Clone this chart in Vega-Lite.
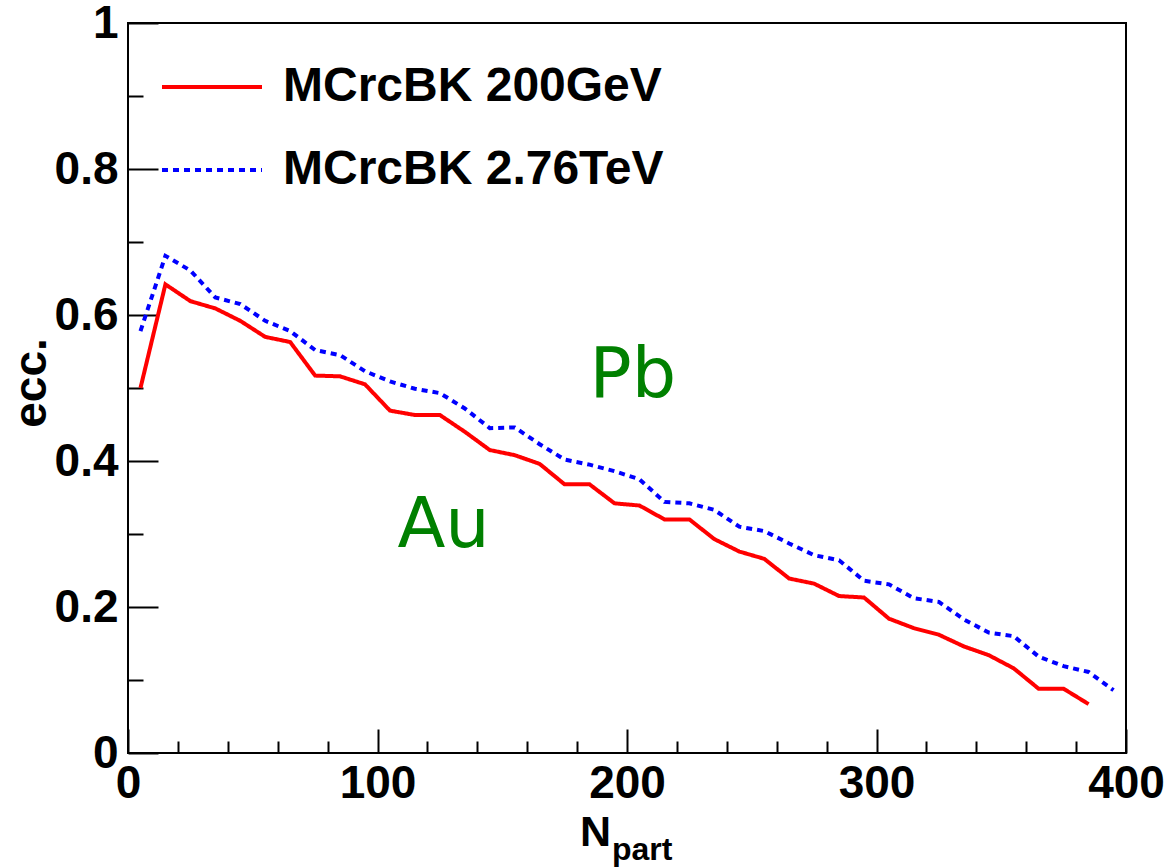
{
  "$schema": "https://vega.github.io/schema/vega-lite/v6.json",
  "width": 998,
  "height": 730,
  "autosize": "none",
  "padding": {"left": 128, "top": 23, "right": 41, "bottom": 114},
  "background": "white",
  "config": {
    "view": {"stroke": "black", "strokeWidth": 2},
    "axis": {
      "grid": false,
      "domain": false,
      "tickColor": "black",
      "tickWidth": 2,
      "labelFont": "Liberation Sans",
      "labelFontWeight": "bold",
      "labelFontSize": 46,
      "labelColor": "black",
      "labelFlush": false,
      "labelOverlap": false,
      "labelBound": false,
      "titleFont": "Liberation Sans",
      "titleFontWeight": "bold",
      "titleFontSize": 46,
      "titleColor": "black"
    }
  },
  "data": {
    "values": [
      {"N": 5, "ecc": 0.500, "series": "MCrcBK 200GeV"},
      {"N": 15, "ecc": 0.642, "series": "MCrcBK 200GeV"},
      {"N": 25, "ecc": 0.619, "series": "MCrcBK 200GeV"},
      {"N": 35, "ecc": 0.609, "series": "MCrcBK 200GeV"},
      {"N": 45, "ecc": 0.592, "series": "MCrcBK 200GeV"},
      {"N": 55, "ecc": 0.570, "series": "MCrcBK 200GeV"},
      {"N": 65, "ecc": 0.563, "series": "MCrcBK 200GeV"},
      {"N": 75, "ecc": 0.517, "series": "MCrcBK 200GeV"},
      {"N": 85, "ecc": 0.516, "series": "MCrcBK 200GeV"},
      {"N": 95, "ecc": 0.505, "series": "MCrcBK 200GeV"},
      {"N": 105, "ecc": 0.469, "series": "MCrcBK 200GeV"},
      {"N": 115, "ecc": 0.463, "series": "MCrcBK 200GeV"},
      {"N": 125, "ecc": 0.463, "series": "MCrcBK 200GeV"},
      {"N": 135, "ecc": 0.440, "series": "MCrcBK 200GeV"},
      {"N": 145, "ecc": 0.415, "series": "MCrcBK 200GeV"},
      {"N": 155, "ecc": 0.408, "series": "MCrcBK 200GeV"},
      {"N": 165, "ecc": 0.396, "series": "MCrcBK 200GeV"},
      {"N": 175, "ecc": 0.368, "series": "MCrcBK 200GeV"},
      {"N": 185, "ecc": 0.368, "series": "MCrcBK 200GeV"},
      {"N": 195, "ecc": 0.342, "series": "MCrcBK 200GeV"},
      {"N": 205, "ecc": 0.339, "series": "MCrcBK 200GeV"},
      {"N": 215, "ecc": 0.320, "series": "MCrcBK 200GeV"},
      {"N": 225, "ecc": 0.320, "series": "MCrcBK 200GeV"},
      {"N": 235, "ecc": 0.293, "series": "MCrcBK 200GeV"},
      {"N": 245, "ecc": 0.276, "series": "MCrcBK 200GeV"},
      {"N": 255, "ecc": 0.266, "series": "MCrcBK 200GeV"},
      {"N": 265, "ecc": 0.239, "series": "MCrcBK 200GeV"},
      {"N": 275, "ecc": 0.232, "series": "MCrcBK 200GeV"},
      {"N": 285, "ecc": 0.215, "series": "MCrcBK 200GeV"},
      {"N": 295, "ecc": 0.213, "series": "MCrcBK 200GeV"},
      {"N": 305, "ecc": 0.184, "series": "MCrcBK 200GeV"},
      {"N": 315, "ecc": 0.171, "series": "MCrcBK 200GeV"},
      {"N": 325, "ecc": 0.162, "series": "MCrcBK 200GeV"},
      {"N": 335, "ecc": 0.146, "series": "MCrcBK 200GeV"},
      {"N": 345, "ecc": 0.134, "series": "MCrcBK 200GeV"},
      {"N": 355, "ecc": 0.116, "series": "MCrcBK 200GeV"},
      {"N": 365, "ecc": 0.088, "series": "MCrcBK 200GeV"},
      {"N": 375, "ecc": 0.088, "series": "MCrcBK 200GeV"},
      {"N": 385, "ecc": 0.067, "series": "MCrcBK 200GeV"},
      {"N": 5, "ecc": 0.578, "series": "MCrcBK 2.76TeV"},
      {"N": 15, "ecc": 0.681, "series": "MCrcBK 2.76TeV"},
      {"N": 25, "ecc": 0.661, "series": "MCrcBK 2.76TeV"},
      {"N": 35, "ecc": 0.624, "series": "MCrcBK 2.76TeV"},
      {"N": 45, "ecc": 0.615, "series": "MCrcBK 2.76TeV"},
      {"N": 55, "ecc": 0.592, "series": "MCrcBK 2.76TeV"},
      {"N": 65, "ecc": 0.578, "series": "MCrcBK 2.76TeV"},
      {"N": 75, "ecc": 0.552, "series": "MCrcBK 2.76TeV"},
      {"N": 85, "ecc": 0.545, "series": "MCrcBK 2.76TeV"},
      {"N": 95, "ecc": 0.523, "series": "MCrcBK 2.76TeV"},
      {"N": 105, "ecc": 0.509, "series": "MCrcBK 2.76TeV"},
      {"N": 115, "ecc": 0.499, "series": "MCrcBK 2.76TeV"},
      {"N": 125, "ecc": 0.493, "series": "MCrcBK 2.76TeV"},
      {"N": 135, "ecc": 0.472, "series": "MCrcBK 2.76TeV"},
      {"N": 145, "ecc": 0.445, "series": "MCrcBK 2.76TeV"},
      {"N": 155, "ecc": 0.446, "series": "MCrcBK 2.76TeV"},
      {"N": 165, "ecc": 0.423, "series": "MCrcBK 2.76TeV"},
      {"N": 175, "ecc": 0.402, "series": "MCrcBK 2.76TeV"},
      {"N": 185, "ecc": 0.395, "series": "MCrcBK 2.76TeV"},
      {"N": 195, "ecc": 0.386, "series": "MCrcBK 2.76TeV"},
      {"N": 205, "ecc": 0.375, "series": "MCrcBK 2.76TeV"},
      {"N": 215, "ecc": 0.344, "series": "MCrcBK 2.76TeV"},
      {"N": 225, "ecc": 0.342, "series": "MCrcBK 2.76TeV"},
      {"N": 235, "ecc": 0.333, "series": "MCrcBK 2.76TeV"},
      {"N": 245, "ecc": 0.310, "series": "MCrcBK 2.76TeV"},
      {"N": 255, "ecc": 0.304, "series": "MCrcBK 2.76TeV"},
      {"N": 265, "ecc": 0.287, "series": "MCrcBK 2.76TeV"},
      {"N": 275, "ecc": 0.271, "series": "MCrcBK 2.76TeV"},
      {"N": 285, "ecc": 0.264, "series": "MCrcBK 2.76TeV"},
      {"N": 295, "ecc": 0.236, "series": "MCrcBK 2.76TeV"},
      {"N": 305, "ecc": 0.231, "series": "MCrcBK 2.76TeV"},
      {"N": 315, "ecc": 0.212, "series": "MCrcBK 2.76TeV"},
      {"N": 325, "ecc": 0.207, "series": "MCrcBK 2.76TeV"},
      {"N": 335, "ecc": 0.183, "series": "MCrcBK 2.76TeV"},
      {"N": 345, "ecc": 0.165, "series": "MCrcBK 2.76TeV"},
      {"N": 355, "ecc": 0.160, "series": "MCrcBK 2.76TeV"},
      {"N": 365, "ecc": 0.132, "series": "MCrcBK 2.76TeV"},
      {"N": 375, "ecc": 0.119, "series": "MCrcBK 2.76TeV"},
      {"N": 385, "ecc": 0.111, "series": "MCrcBK 2.76TeV"},
      {"N": 395, "ecc": 0.086, "series": "MCrcBK 2.76TeV"}
    ]
  },
  "layer": [
    {
      "mark": {"type": "line", "strokeWidth": 4, "clip": true},
      "encoding": {
        "x": {
          "field": "N",
          "type": "quantitative",
          "scale": {"domain": [0, 400], "nice": false, "zero": false},
          "axis": {
            "values": [0, 20, 40, 60, 80, 100, 120, 140, 160, 180, 200, 220, 240, 260, 280, 300, 320, 340, 360, 380, 400],
            "labelExpr": "datum.value % 100 === 0 ? datum.label : ''",
            "tickSize": {"condition": {"test": "datum.value % 100 === 0", "value": -24}, "value": -12},
            "labelPadding": 32,
            "title": "N",
            "titleFontSize": 43,
            "titleX": 467,
            "titleY": 92,
            "titleAlign": "center",
            "titleBaseline": "alphabetic"
          }
        },
        "y": {
          "field": "ecc",
          "type": "quantitative",
          "scale": {"domain": [0, 1], "nice": false, "zero": false},
          "axis": {
            "values": [0, 0.05, 0.1, 0.15, 0.2, 0.25, 0.3, 0.35, 0.4, 0.45, 0.5, 0.55, 0.6, 0.65, 0.7, 0.75, 0.8, 0.85, 0.9, 0.95, 1],
            "labelExpr": "abs(datum.value * 5 - round(datum.value * 5)) < 1e-6 ? format(datum.value, '.1~f') : ''",
            "tickSize": {"condition": {"test": "abs(datum.value * 5 - round(datum.value * 5)) < 1e-6", "value": -30}, "value": -15},
            "labelPadding": 40,
            "title": "ecc.",
            "titleX": -83,
            "titleY": 359.5,
            "titleAngle": 270,
            "titleAlign": "center",
            "titleBaseline": "alphabetic"
          }
        },
        "color": {
          "field": "series",
          "type": "nominal",
          "scale": {"domain": ["MCrcBK 200GeV", "MCrcBK 2.76TeV"], "range": ["#ff0000", "#0000ff"]},
          "legend": {
            "orient": "none",
            "legendX": 32,
            "legendY": 12,
            "title": null,
            "padding": 0,
            "symbolType": "stroke",
            "symbolSize": 10000,
            "symbolStrokeWidth": 4,
            "labelFont": "Liberation Sans",
            "labelFontWeight": "bold",
            "labelFontSize": 48,
            "labelColor": "black",
            "labelOffset": 19,
            "labelLimit": 600,
            "rowPadding": 7
          }
        },
        "strokeDash": {
          "field": "series",
          "type": "nominal",
          "scale": {"domain": ["MCrcBK 200GeV", "MCrcBK 2.76TeV"], "range": [[1, 0], [6, 5]]},
          "legend": null
        }
      }
    },
    {
      "data": {"values": [{"label": "Pb"}]},
      "mark": {"type": "text", "font": "DejaVu Sans", "fontSize": 70, "color": "#008000", "align": "left", "baseline": "alphabetic"},
      "encoding": {
        "text": {"field": "label"},
        "x": {"datum": 185},
        "y": {"datum": 0.488}
      }
    },
    {
      "data": {"values": [{"label": "Au"}]},
      "mark": {"type": "text", "font": "DejaVu Sans", "fontSize": 70, "color": "#008000", "align": "left", "baseline": "alphabetic"},
      "encoding": {
        "text": {"field": "label"},
        "x": {"datum": 108},
        "y": {"datum": 0.282}
      }
    },
    {
      "data": {"values": [{"label": "part"}]},
      "mark": {"type": "text", "font": "Liberation Sans", "fontWeight": "bold", "fontSize": 32, "color": "black", "align": "left", "baseline": "alphabetic"},
      "encoding": {
        "text": {"field": "label"},
        "x": {"datum": 194},
        "y": {"datum": -0.147}
      }
    }
  ]
}
